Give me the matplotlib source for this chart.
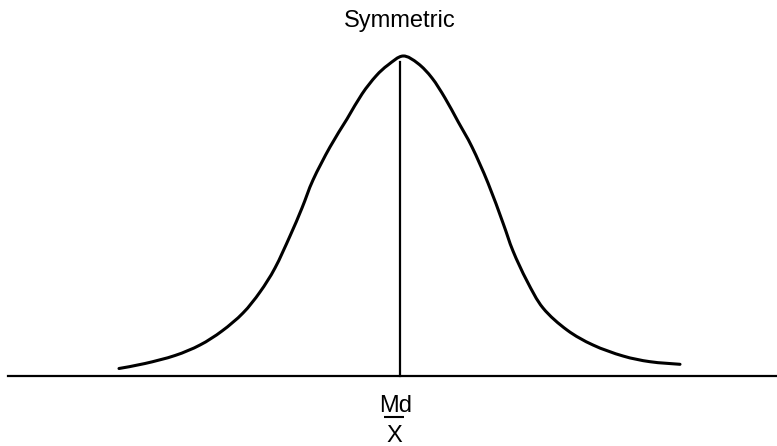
import numpy as np
import matplotlib
matplotlib.use("Agg")
import matplotlib.pyplot as plt
from matplotlib.path import Path
from matplotlib.patches import PathPatch

plt.rcParams['font.family'] = ['Liberation Sans', 'DejaVu Sans']

# Curve points (x position, height above the baseline)
curve_x = [119, 145, 175, 200, 222, 243, 260, 275, 290, 302, 313, 330, 347, 362, 376, 388, 403,
           418, 432, 445, 458, 472, 488, 503, 513, 527, 543, 567, 593, 623, 650, 680]
curve_h = [7.5, 12.5, 20.5, 31, 45, 63, 84, 108, 140, 168, 196, 229, 257, 282, 300, 311, 320,
           312.5, 298, 278, 254.5, 229, 193, 153, 125, 95, 68, 46, 31, 20, 14.3, 11.7]
median_x = 400
median_h = 314
title = "Symmetric"
label_md = "Md"
label_mean = "X"

fig = plt.figure(figsize=(7.77, 4.46), dpi=100)
ax = fig.add_axes([0, 0, 1, 1])
ax.set_xlim(0, 777)
ax.set_ylim(-70, 376)
ax.axis('off')

# smooth curve through the points (Catmull-Rom as cubic Bezier segments)
pts = np.column_stack([curve_x, curve_h]).astype(float)
verts = [pts[0]]
codes = [Path.MOVETO]
n = len(pts)
for i in range(n - 1):
    p0 = pts[i - 1] if i > 0 else pts[i]
    p1 = pts[i]
    p2 = pts[i + 1]
    p3 = pts[i + 2] if i + 2 < n else pts[i + 1]
    c1 = p1 + (p2 - p0) / 6.0
    c2 = p2 - (p3 - p1) / 6.0
    verts += [c1, c2, p2]
    codes += [Path.CURVE4] * 3
ax.add_patch(PathPatch(Path(verts, codes), fill=False, lw=2.2, edgecolor='black',
                       capstyle='round', joinstyle='round'))

# baseline and median line
ax.axhline(0, xmin=8 / 777, xmax=1, color='black', lw=1.6)
ax.plot([median_x, median_x], [0, median_h], color='black', lw=1.6)

ax.text(median_x, 376 - 27, title, ha='center', va='baseline', fontsize=17)
ax.text(median_x - 4, 376 - 412, label_md, ha='center', va='baseline', fontsize=17)
# bar of the mean symbol
ax.plot([median_x - 16, median_x + 4], [376 - 417, 376 - 417], color='black', lw=1.5,
        solid_capstyle='butt')
ax.text(median_x - 6, 376 - 442, label_mean, ha='center', va='baseline', fontsize=17)

fig.savefig("out.png", dpi=100)
